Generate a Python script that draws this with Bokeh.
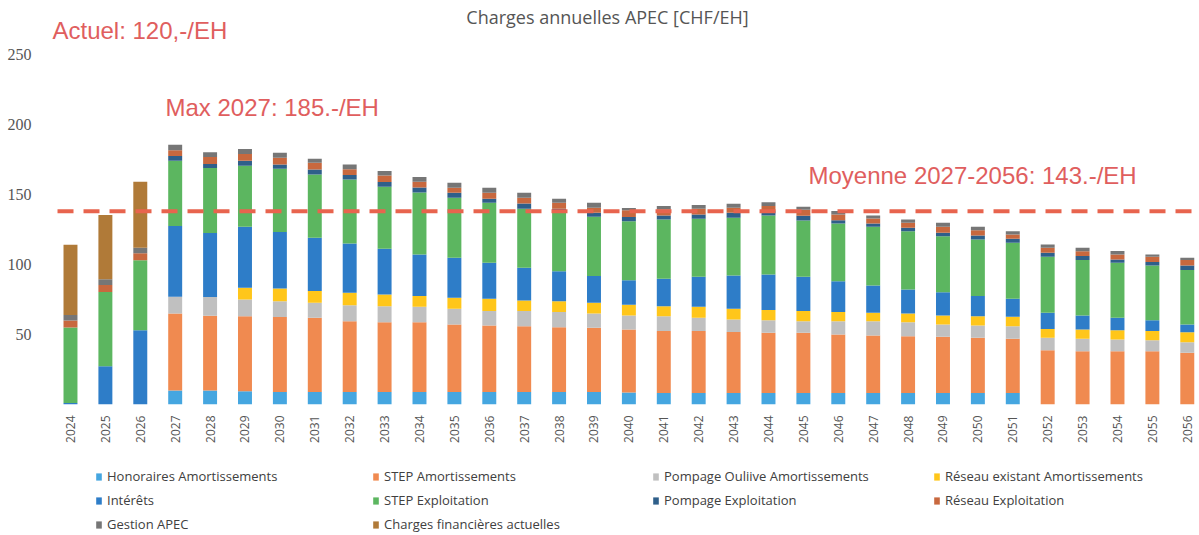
import math
from bokeh.plotting import figure
from bokeh.layouts import column
from bokeh.models import Range1d, FixedTicker, Label, Legend, LegendItem, ColumnDataSource
from bokeh.embed import file_html
from bokeh.resources import INLINE

years = [str(y) for y in range(2024, 2057)]

honoraires_amort = [0, 0, 0, 10, 10, 9.5, 9, 9, 9, 9, 9, 9, 9, 9, 9, 9, 8.5,
                    8.3, 8.3, 8.3, 8.3, 8.3, 8.3, 8.3, 8.3, 8.3, 8.3, 8.3, 0, 0, 0, 0, 0]
step_amort = [0, 0, 0, 55, 53.4, 53.6, 53.4, 52.9, 50.5, 49.8, 49.8, 48.1, 47.4, 46.9, 46.2, 45.8,
              45, 44.1, 44.1, 43.4, 42.9, 42.9, 41.7, 41, 40.5, 40, 39.3, 38.6, 38.8, 38.1, 38.1, 38.1, 36.9]
pompage_amort = [0, 0, 0, 12, 13.3, 11.9, 11.4, 10.7, 11.4, 11.4, 11, 11.2, 10.3, 10.8, 10.8, 10.2,
                 10, 10.7, 9.5, 9, 9, 8.3, 9.5, 10.2, 10, 8.8, 8.8, 9, 8.8, 8.8, 8.3, 7.8, 7.6]
reseau_amort = [0, 0, 0, 0, 0, 8.3, 9.1, 8.4, 8.9, 8.4, 7.6, 7.9, 8.8, 7.6, 7.8, 7.6,
                7.8, 7.1, 7.9, 7.6, 7.2, 7.2, 6.5, 6, 6.2, 6.5, 6.7, 6.7, 6.4, 6.7, 6.7, 6.5, 7.1]
interets = [1, 27.4, 53, 50.5, 45.7, 43.6, 40.2, 38, 35.2, 32.6, 29.7, 28.6, 25.7, 23.3, 21.4, 19.1,
            17.4, 19.6, 21.4, 23.8, 25.5, 24.5, 22.1, 19.5, 17.1, 16.6, 14.3, 12.9, 11.5, 10, 8.8, 7.8, 5.5]
step_exploit = [54, 53, 50, 46.5, 46.4, 43.6, 45.2, 45.3, 45.7, 44.3, 44.3, 42.8, 42.8, 42.2, 42.2, 42.3,
                42.1, 42.3, 41.4, 41.2, 42.1, 40.2, 41.2, 41.9, 41.7, 40, 40.5, 40, 40, 39.5, 39.3, 39.1, 38.9]
pompage_exploit = [0, 0, 0, 3.5, 3, 3.6, 3.1, 3.6, 3.1, 3.3, 3.6, 3.6, 2.9, 3.8, 2.4, 2.9,
                   3.1, 2.9, 3.1, 3.6, 3.1, 3.4, 2.3, 2.4, 2.4, 2.4, 2.8, 2.8, 2.8, 2.9, 2.4, 2.4, 3.3]
reseau_exploit = [5, 5, 5, 4, 5, 4.8, 4.8, 4.7, 4.2, 4.8, 4, 3.6, 4.3, 4, 4.2, 3.6,
                  4.9, 4.3, 4.1, 3.6, 3.6, 4.2, 4.1, 3.6, 3.6, 4.3, 3.8, 3.1, 3.6, 3.5, 3.6, 3.8, 3.8]
gestion_apec = [4, 4, 4, 4, 3.3, 3.5, 3.6, 2.9, 3.4, 3.1, 3.4, 3.5, 3.6, 3.6, 2.9, 3.5,
                1.5, 2.4, 2.6, 2.8, 2.8, 2.2, 2.4, 2.1, 2.3, 2.9, 2.4, 2.4, 2.4, 2.4, 2.4, 1.6, 1.7]
charges_fin = [50, 46, 47] + [0] * 30

series_names = ["Honoraires Amortissements", "STEP Amortissements", "Pompage Ouliive Amortissements",
                "Réseau existant Amortissements", "Intérêts", "STEP Exploitation",
                "Pompage Exploitation", "Réseau Exploitation", "Gestion APEC",
                "Charges financières actuelles"]
series_values = [honoraires_amort, step_amort, pompage_amort, reseau_amort, interets,
                 step_exploit, pompage_exploit, reseau_exploit, gestion_apec, charges_fin]
colors = ["#45A6E0", "#F08A50", "#C0C0C0", "#FFC61A", "#2E7DC8", "#5CB660",
          "#2F5F8A", "#C8683E", "#767676", "#B07A38"]

moyenne_line = 138
annotations = ["Actuel: 120,-/EH", "Max 2027: 185.-/EH", "Moyenne 2027-2056: 143.-/EH"]
title_text = "Charges annuelles APEC [CHF/EH]"
y_ticks = [50, 100, 150, 200, 250]

data = {"x": list(range(len(years)))}
keys = []
for i, vals in enumerate(series_values):
    k = "s%d" % i
    keys.append(k)
    data[k] = vals
source = ColumnDataSource(data)

p = figure(width=1199, height=445, output_backend="svg", toolbar_location=None,
           x_range=Range1d(-0.716, 32.35), y_range=Range1d(0, 288.5),
           min_border_left=45, min_border_right=0, min_border_top=0, min_border_bottom=40)
p.outline_line_color = None
p.xgrid.visible = False
p.ygrid.visible = False

p.vbar_stack(keys, x="x", width=0.4, color=colors, source=source, line_width=0)

p.line([-0.372, 32.35], [moyenne_line, moyenne_line], line_color="#E8644E", line_width=4,
       line_dash="16 10")

# axes
p.yaxis.ticker = FixedTicker(ticks=y_ticks)
p.yaxis.axis_line_color = None
p.yaxis.major_tick_line_color = None
p.yaxis.minor_tick_line_color = None
p.yaxis.major_label_standoff = 8
p.yaxis.major_label_text_font = "Liberation Serif"
p.yaxis.major_label_text_font_size = "16px"
p.yaxis.major_label_text_color = "#555555"

p.xaxis.ticker = FixedTicker(ticks=list(range(len(years))))
p.xaxis.major_label_overrides = {i: y for i, y in enumerate(years)}
p.xaxis.major_label_orientation = math.pi / 2
p.xaxis.axis_line_color = None
p.xaxis.major_tick_line_color = None
p.xaxis.minor_tick_line_color = None
p.xaxis.major_label_standoff = 5
p.xaxis.major_label_text_font = "Open Sans"
p.xaxis.major_label_text_font_size = "12px"
p.xaxis.major_label_text_color = "#555555"

# texts
p.add_layout(Label(x=15.387, y=276.4, text=title_text, text_align="center", text_baseline="middle",
                   text_font="Open Sans", text_font_size="18px", text_color="#555555"))
red = "#E05E5E"
pos = [(-0.516, 267.1), (2.722, 212.3), (21.146, 163.8)]
for t, (xx, yy) in zip(annotations, pos):
    p.add_layout(Label(x=xx, y=yy, text=t, text_align="left", text_baseline="middle",
                       text_font="Liberation Sans", text_font_size="24px", text_color=red))

# legend figure below the chart (zero-height proxy bars only feed the legend swatches)
lf = figure(width=1199, height=90, output_backend="svg", toolbar_location=None,
            x_range=Range1d(0, 1), y_range=Range1d(0, 1), x_axis_type=None, y_axis_type=None,
            min_border_left=0, min_border_right=0, min_border_top=0, min_border_bottom=0)
lf.outline_line_color = None
lf.border_fill_color = "white"
legend_renderers = [lf.vbar(x=[0.5], top=[0], bottom=[0], width=0.01, fill_color=c,
                            line_color=None) for c in colors]

cols = [[0, 4, 8], [1, 5, 9], [2, 6], [3, 7]]
col_x = [50, 327, 607, 888]
for idxs, cx in zip(cols, col_x):
    items = [LegendItem(label=series_names[i], renderers=[legend_renderers[i]]) for i in idxs]
    ly = 2 if len(idxs) == 3 else 26
    lg = Legend(items=items, location=(cx, ly), orientation="vertical",
                padding=0, margin=0, spacing=6, border_line_color=None,
                background_fill_alpha=0, glyph_width=7, glyph_height=9,
                label_standoff=5, label_text_font="Open Sans", label_text_font_size="13px",
                label_text_color="#404040", label_height=14)
    lf.add_layout(lg, "center")

layout = column(p, lf)
open("out.html", "w").write(file_html(layout, INLINE))
